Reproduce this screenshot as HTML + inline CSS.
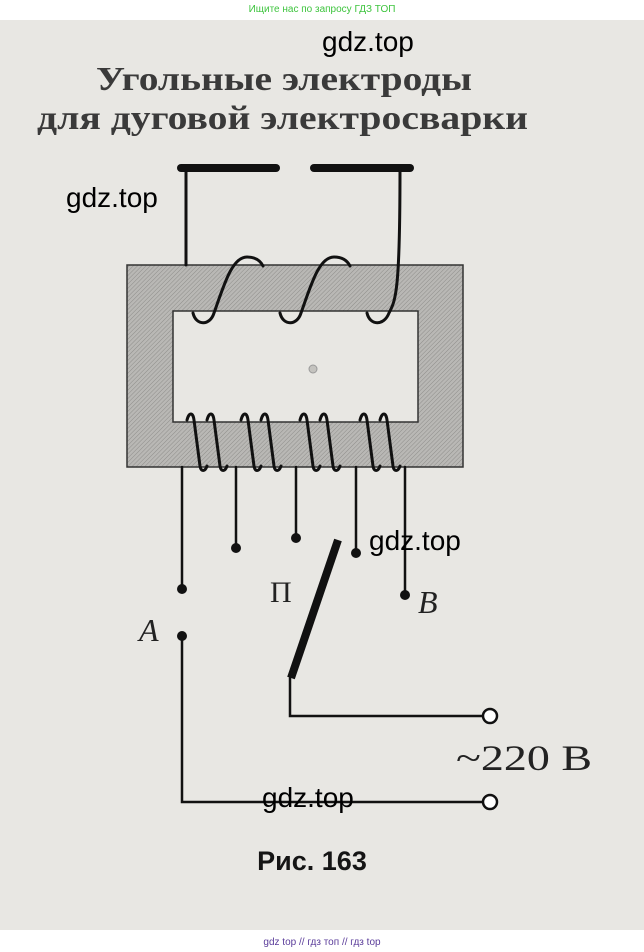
<!DOCTYPE html>
<html><head><meta charset="utf-8"><style>
html,body{margin:0;padding:0;width:644px;height:952px;overflow:hidden;background:#fff}
</style></head><body>
<svg width="644" height="952" viewBox="0 0 644 952" xmlns="http://www.w3.org/2000/svg">
<defs>
<pattern id="h" width="3" height="3" patternUnits="userSpaceOnUse" patternTransform="rotate(45)">
<rect width="3" height="3" fill="#b9b8b5"/><line x1="0" y1="0" x2="0" y2="3" stroke="#8e8d8a" stroke-width="1"/>
</pattern>
</defs>
<rect x="0" y="20" width="644" height="910" fill="#e8e7e3"/>
<text x="322" y="12" font-family="Liberation Sans, sans-serif" font-size="10" fill="#3ec43e" text-anchor="middle">Ищите нас по запросу ГДЗ ТОП</text>
<text x="322" y="945" font-family="Liberation Sans, sans-serif" font-size="10" fill="#5a3c9a" text-anchor="middle">gdz top  //  гдз топ  //  гдз top</text>
<g font-family="Liberation Serif, serif" font-size="34" font-weight="bold" fill="#3a3a3a">
<text x="96" y="90" textLength="376" lengthAdjust="spacingAndGlyphs">Угольные электроды</text>
<text x="37" y="129" textLength="491" lengthAdjust="spacingAndGlyphs">для дуговой электросварки</text>
</g>
<rect x="127" y="265" width="336" height="202" fill="url(#h)" stroke="#333" stroke-width="1.5"/>
<rect x="173" y="311" width="245" height="111" fill="#e8e7e3" stroke="#333" stroke-width="1.5"/>
<circle cx="313" cy="369" r="4" fill="#c4c3bf" stroke="#999" stroke-width="1"/>
<g stroke="#111" stroke-linecap="round" fill="none">
<line x1="181" y1="168" x2="276" y2="168" stroke-width="8"/>
<line x1="314" y1="168" x2="410" y2="168" stroke-width="8"/>
<g stroke-width="3">
<line x1="186" y1="168" x2="186" y2="265"/>
<path d="M193,313 C196,326 210,326 214,313 C224,285 232,257 247,257 C257,257 261,262 263,266"/>
<path d="M280,313 C283,326 297,326 301,313 C311,285 319,257 334,257 C344,257 348,262 350,266"/>
<path d="M367,313 C370,326 384,326 389,313 C396,300 400,290 400,168"/>
<path d="M187,420 C189,412 193,412 194,420 L200,466 C201,472 205,472 207,466"/>
<path d="M207,420 C209,412 213,412 214,420 L220,466 C221,472 225,472 227,466"/>
<path d="M241,420 C243,412 247,412 248,420 L254,466 C255,472 259,472 261,466"/>
<path d="M261,420 C263,412 267,412 268,420 L274,466 C275,472 279,472 281,466"/>
<path d="M300,420 C302,412 306,412 307,420 L313,466 C314,472 318,472 320,466"/>
<path d="M320,420 C322,412 326,412 327,420 L333,466 C334,472 338,472 340,466"/>
<path d="M360,420 C362,412 366,412 367,420 L373,466 C374,472 378,472 380,466"/>
<path d="M380,420 C382,412 386,412 387,420 L393,466 C394,472 398,472 400,466"/>
</g>
<g stroke-width="2.5">
<line x1="182" y1="467" x2="182" y2="589"/>
<line x1="236" y1="467" x2="236" y2="548"/>
<line x1="296" y1="467" x2="296" y2="538"/>
<line x1="356" y1="467" x2="356" y2="553"/>
<line x1="405" y1="467" x2="405" y2="595"/>
<polyline points="182,636 182,802 483,802"/>
<polyline points="290,678 290,716 483,716"/>
</g>
<line x1="338" y1="540" x2="291" y2="678" stroke-width="8" stroke-linecap="butt"/>
</g>
<g fill="#111">
<circle cx="182" cy="589" r="5"/><circle cx="236" cy="548" r="5"/><circle cx="296" cy="538" r="5"/>
<circle cx="356" cy="553" r="5"/><circle cx="405" cy="595" r="5"/><circle cx="182" cy="636" r="5"/>
</g>
<circle cx="490" cy="716" r="7" fill="#fff" stroke="#111" stroke-width="2.5"/>
<circle cx="490" cy="802" r="7" fill="#fff" stroke="#111" stroke-width="2.5"/>
<g font-family="Liberation Serif, serif" fill="#222">
<text x="270" y="602" font-size="30">П</text>
<text x="418" y="613" font-size="32" font-style="italic">B</text>
<text x="139" y="641" font-size="32" font-style="italic">A</text>
<text x="456" y="770" font-size="36" textLength="136" lengthAdjust="spacingAndGlyphs">~220 В</text>
</g>
<text x="312" y="870" font-family="Liberation Sans, sans-serif" font-size="27" font-weight="bold" fill="#151515" text-anchor="middle">Рис. 163</text>
<g font-family="Liberation Sans, sans-serif" font-size="28" fill="#000">
<text x="322" y="51">gdz.top</text>
<text x="66" y="207">gdz.top</text>
<text x="369" y="550">gdz.top</text>
<text x="262" y="807">gdz.top</text>
</g>
</svg>
</body></html>
